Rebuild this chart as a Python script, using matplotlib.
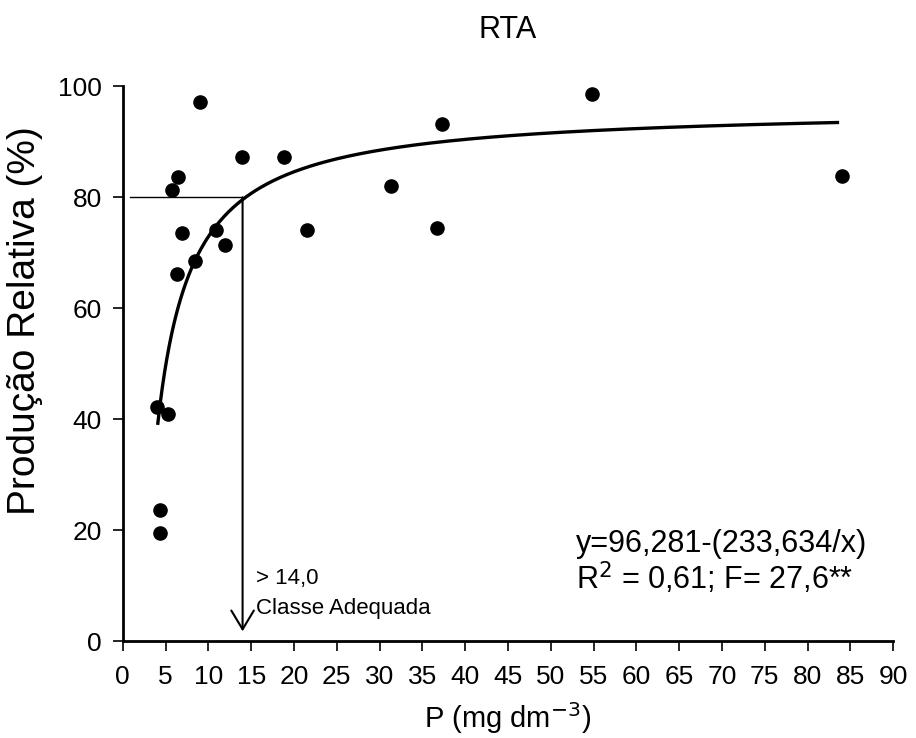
import numpy as np
import matplotlib
matplotlib.use("Agg")
import matplotlib.pyplot as plt

plt.rcParams['font.family'] = ['Liberation Sans', 'DejaVu Sans']

# observed points (P, relative production)
p_obs = [4.0, 5.3, 4.3, 4.3, 5.8, 6.4, 6.3, 6.9, 8.5, 9.0, 10.9, 12.0,
         13.9, 18.8, 21.5, 31.3, 36.7, 37.3, 54.8, 84.0]
prod_obs = [42.3, 40.9, 23.6, 19.5, 81.3, 83.6, 66.1, 73.5, 68.5, 97.1, 74.1, 71.4,
            87.2, 87.2, 74.2, 82.0, 74.4, 93.3, 98.6, 83.8]

# fitted model y = a - b/x
a_fit = 96.281
b_fit = 233.634
x_fit_min, x_fit_max = 4.1, 83.5
critical_p = 14.0
critical_y = 80

xticks = list(range(0, 95, 5))
yticks = list(range(0, 120, 20))

fig = plt.figure(figsize=(9.16, 7.38), dpi=100)
ax = fig.add_axes([0.134, 0.131, 0.841, 0.752])

xs = np.linspace(x_fit_min, x_fit_max, 300)
ax.plot(xs, a_fit - b_fit / xs, color='black', lw=2.4, zorder=3)
ax.scatter(p_obs, prod_obs, s=90, color='black', zorder=4)

# critical level lines
ax.plot([0.8, critical_p], [critical_y, critical_y], color='black', lw=1.0)
ax.annotate('', xy=(critical_p, 1.8), xytext=(critical_p, critical_y),
            arrowprops=dict(arrowstyle='->, head_length=0.45, head_width=0.27',
                            color='black', lw=1.5, mutation_scale=30,
                            shrinkA=0, shrinkB=0))
ax.text(15.6, 11.3, '> 14,0', fontsize=16, va='center')
ax.text(15.6, 5.9, 'Classe Adequada', fontsize=16, va='center')

ax.text(53.0, 17.6, 'y=96,281-(233,634/x)', fontsize=22, va='center')
ax.text(53.0, 11.4, 'R$^2$ = 0,61; F= 27,6**', fontsize=22, va='center')

ax.set_xlim(0, 90)
ax.set_ylim(0, 100)
ax.set_xticks(xticks)
ax.set_yticks(yticks)
ax.tick_params(labelsize=19, direction='out', length=7, width=1.2)
ax.tick_params(axis='x', pad=10)
ax.tick_params(axis='y', pad=8)
for s in ['top', 'right']:
    ax.spines[s].set_visible(False)
for s in ['left', 'bottom']:
    ax.spines[s].set_linewidth(2.0)

ax.set_xlabel('P (mg dm$^{-3}$)', fontsize=21, labelpad=8)
ax.set_ylabel('Produção Relativa (%)', fontsize=28)
ax.yaxis.set_label_coords(-0.104, 0.577)
ax.set_title('RTA', fontsize=22, pad=35)

fig.savefig('out.png', dpi=100)
